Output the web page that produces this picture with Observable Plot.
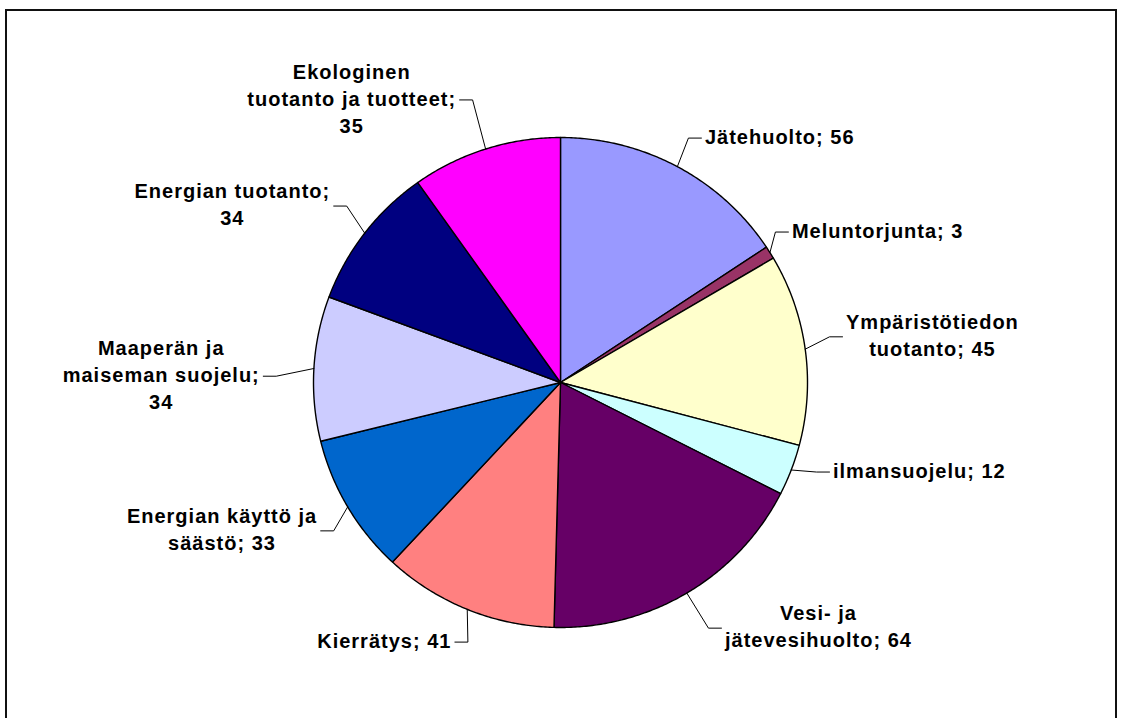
<!DOCTYPE html>
<html>
<head>
<meta charset="utf-8">
<script src="https://cdn.jsdelivr.net/npm/d3@7"></script>
<script src="https://cdn.jsdelivr.net/npm/@observablehq/plot@0.6"></script>
<style>
  html, body { margin: 0; padding: 0; background: #fff; }
  #wrap { position: relative; width: 1122px; height: 718px; overflow: hidden; background: #fff; }
  #chart { position: absolute; left: 0; top: 0; }
  #frame { position: absolute; left: 5px; top: 9px; width: 1112px; height: 740px;
           border: 2px solid #111; box-sizing: border-box; pointer-events: none; }
</style>
</head>
<body>
<div id="wrap"><div id="chart"></div><div id="frame"></div></div>
<script>
// ---- data (clockwise from 12 o'clock) ----
const categories = [
  "Jätehuolto", "Meluntorjunta", "Ympäristötiedon tuotanto", "ilmansuojelu",
  "Vesi- ja jätevesihuolto", "Kierrätys", "Energian käyttö ja säästö",
  "Maaperän ja maiseman suojelu", "Energian tuotanto", "Ekologinen tuotanto ja tuotteet"
];
const values = [56, 3, 45, 12, 64, 41, 33, 34, 34, 35];
const labels = [
  "Jätehuolto; 56",
  "Meluntorjunta; 3",
  "Ympäristötiedon\ntuotanto; 45",
  "ilmansuojelu; 12",
  "Vesi- ja\njätevesihuolto; 64",
  "Kierrätys; 41",
  "Energian käyttö ja\nsäästö; 33",
  "Maaperän ja\nmaiseman suojelu;\n34",
  "Energian tuotanto;\n34",
  "Ekologinen\ntuotanto ja tuotteet;\n35"
];
const colors = [
  "#9999FF", "#993366", "#FFFFCC", "#CCFFFF", "#660066",
  "#FF8080", "#0066CC", "#CCCCFF", "#000080", "#FF00FF"
];
// layout of the (hand-placed) data labels: leader elbow distance (pie radii)
// and angular nudge (degrees) from each slice's mid-angle
const labelDistance = [1.124, 1.065, 1.105, 1.099, 1.168, 1.124, 1.100, 1.151, 1.126, 1.207];
const labelNudge    = [-0.8, -3.2, -1.9, -1.5, -0.1, -2.7, -2.9, -2.0, 2.2, 0.5];

// ---- layout ----
const W = 1122, H = 718, CX = 560, CY = 382, RX = 247, RY = 245;
const FONT = "Liberation Sans, Arial, sans-serif";
const FS = 20, LS = 1, LH = 27;

const arcs = d3.pie().sort(null).value(d => d)(values);

// slice polygons in unit-circle coordinates
const slicePts = [];
arcs.forEach((a, i) => {
  const name = categories[i];
  slicePts.push({name, x: 0, y: 0});
  const n = Math.max(2, Math.ceil((a.endAngle - a.startAngle) / (Math.PI / 360)));
  for (let k = 0; k <= n; k++) {
    const t = a.startAngle + (a.endAngle - a.startAngle) * k / n;
    slicePts.push({name, x: Math.sin(t), y: Math.cos(t)});
  }
  slicePts.push({name, x: 0, y: 0});
});

// text measurement
const ctx = document.createElement("canvas").getContext("2d");
ctx.font = `bold ${FS}px ${FONT}`;
const measure = s => ctx.measureText(s).width + LS * (s.length - 1);

const leaderPts = [];
const labelData = [];
arcs.forEach((a, i) => {
  const name = categories[i];
  const m = (a.startAngle + a.endAngle) / 2;
  const la = m + labelNudge[i] * Math.PI / 180;
  const side = Math.sin(la) >= 0 ? 1 : -1;
  const ex = Math.sin(m), ey = Math.cos(m);
  const bx = Math.sin(la) * labelDistance[i], by = Math.cos(la) * labelDistance[i];
  const tx = bx + side * 13 / RX, ty = by;
  leaderPts.push({name, x: ex, y: ey}, {name, x: bx, y: by}, {name, x: tx, y: ty});
  const bw = d3.max(labels[i].split("\n"), measure);
  labelData.push({name, text: labels[i], x: tx + side * (4 + bw / 2) / RX, y: ty});
});

const chart = Plot.plot({
  width: W,
  height: H,
  margin: 0,
  x: {domain: [-CX / RX, (W - CX) / RX], axis: null},
  y: {domain: [-(H - CY) / RY, CY / RY], axis: null},
  color: {domain: categories, range: colors},
  style: {background: "transparent", fontFamily: FONT, letterSpacing: `${LS}px`},
  marks: [
    Plot.line(slicePts, {x: "x", y: "y", z: "name", fill: "name", stroke: "black",
                         strokeWidth: 1.4, strokeLinejoin: "round"}),
    Plot.line(leaderPts, {x: "x", y: "y", z: "name", stroke: "black", strokeWidth: 1}),
    Plot.text(labelData, {x: "x", y: "y", text: "text", textAnchor: "middle", lineAnchor: "middle",
                          lineHeight: LH / FS, fontSize: FS, fontWeight: "bold", fill: "black", dy: -3})
  ]
});
document.getElementById("chart").appendChild(chart);
</script>
</body>
</html>
